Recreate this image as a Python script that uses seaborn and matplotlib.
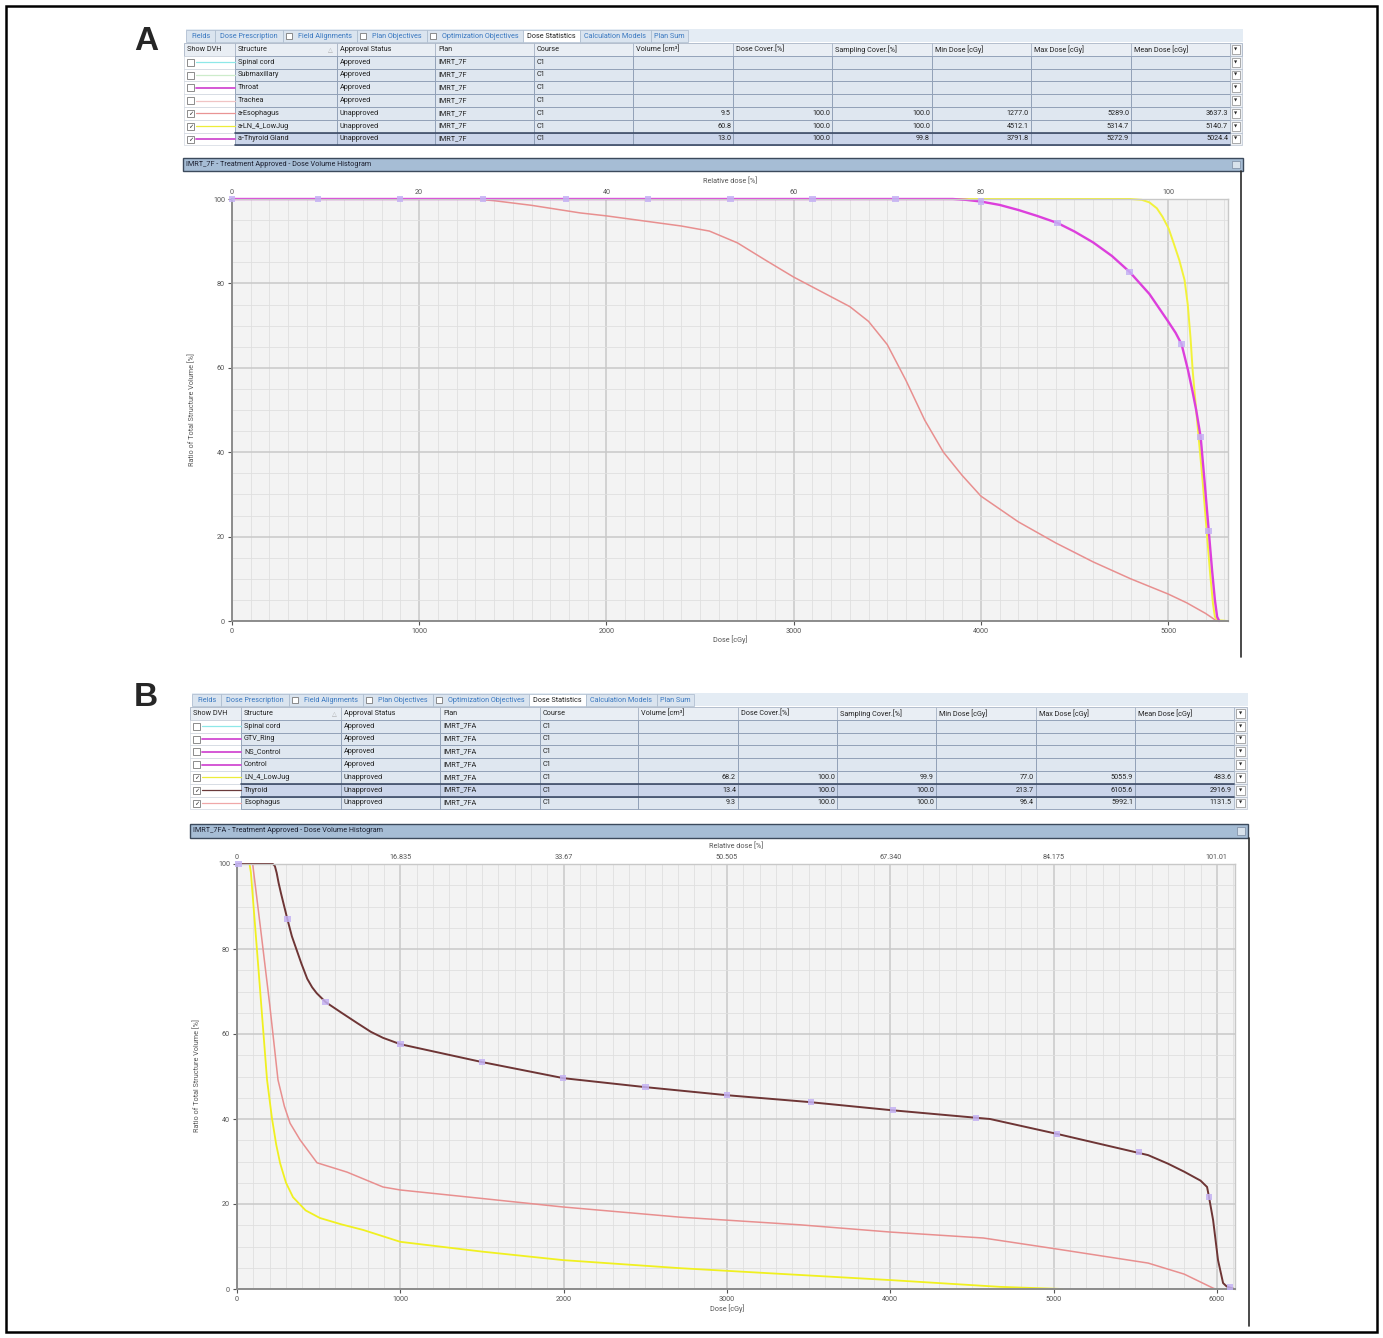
import numpy as np
import pandas as pd
import matplotlib
matplotlib.use("Agg")
import matplotlib.pyplot as plt
import seaborn as sns
from matplotlib.patches import Rectangle
from matplotlib.ticker import MultipleLocator

W, H = 1383, 1338

# ---------------- table data ----------------
tabs = ["Fields", "Dose Prescription", "Field Alignments", "Plan Objectives",
        "Optimization Objectives", "Dose Statistics", "Calculation Models", "Plan Sum"]
tab_checkbox = [False, False, True, True, True, False, False, False]
active_tab = "Dose Statistics"
header = ["Show DVH", "Structure", "Approval Status", "Plan", "Course", "Volume [cm³]",
          "Dose Cover.[%]", "Sampling Cover.[%]", "Min Dose [cGy]", "Max Dose [cGy]", "Mean Dose [cGy]"]

a_structure = ["Spinal cord", "Submaxillary", "Throat", "Trachea", "a-Esophagus", "a-LN_4_LowJug", "a-Thyroid Gland"]
a_status = ["Approved", "Approved", "Approved", "Approved", "Unapproved", "Unapproved", "Unapproved"]
a_plan = ["IMRT_7F"] * 7
a_course = ["C1"] * 7
a_volume = ["", "", "", "", "9.5", "60.8", "13.0"]
a_dose_cover = ["", "", "", "", "100.0", "100.0", "100.0"]
a_sampling = ["", "", "", "", "100.0", "100.0", "99.8"]
a_min = ["", "", "", "", "1277.0", "4512.1", "3791.8"]
a_max = ["", "", "", "", "5289.0", "5314.7", "5272.9"]
a_mean = ["", "", "", "", "3637.3", "5140.7", "5024.4"]
a_checked = [False, False, False, False, True, True, True]
a_swatch = ["#8ee8e8", "#cdeccb", "#d24bd2", "#f0c4c4", "#e99494", "#eded3a", "#d04cd0"]

b_structure = ["Spinal cord", "GTV_Ring", "NS_Control", "Control", "LN_4_LowJug", "Thyroid", "Esophagus"]
b_status = ["Approved", "Approved", "Approved", "Approved", "Unapproved", "Unapproved", "Unapproved"]
b_plan = ["IMRT_7FA"] * 7
b_course = ["C1"] * 7
b_volume = ["", "", "", "", "68.2", "13.4", "9.3"]
b_dose_cover = ["", "", "", "", "100.0", "100.0", "100.0"]
b_sampling = ["", "", "", "", "99.9", "100.0", "100.0"]
b_min = ["", "", "", "", "77.0", "213.7", "96.4"]
b_max = ["", "", "", "", "5055.9", "6105.6", "5992.1"]
b_mean = ["", "", "", "", "483.6", "2916.9", "1131.5"]
b_checked = [False, False, False, False, True, True, True]
b_swatch = ["#8ee8e8", "#d24bd2", "#d24bd2", "#d24bd2", "#eded3a", "#6a3a3a", "#f0a8a8"]

# ---------------- DVH curves, panel A ----------------
a_thyroid_dose = [0, 3850, 3920, 4000, 4100, 4200, 4300, 4410, 4500, 4600, 4700, 4795, 4900,
                  5000, 5040, 5072, 5106, 5130, 5150, 5174, 5195, 5216, 5235, 5250, 5262, 5273]
a_thyroid_vol = [100, 100, 99.8, 99.4, 98.6, 97.4, 96.0, 94.3, 92.3, 89.7, 86.5, 82.7, 77.5,
                 71, 68.3, 65.6, 59.5, 54.5, 50, 43.6, 33, 22, 12, 5, 1, 0]
a_thyroid_mk_dose = [0, 459, 897, 1340, 1783, 2221, 2664, 3102, 3545, 4000, 4410, 4795, 5072, 5174, 5216]
a_thyroid_mk_vol = [100, 100, 100, 100, 100, 100, 100, 100, 100, 99.4, 94.3, 82.7, 65.6, 43.6, 21.3]

a_ln_dose = [0, 4800, 4860, 4900, 4940, 4970, 5003, 5030, 5060, 5088, 5105, 5120, 5131, 5148, 5163,
             5184, 5205, 5225, 5240, 5250, 5265, 5315]
a_ln_vol = [100, 100, 99.8, 99.2, 97.8, 95.8, 93, 89.5, 85.5, 80.8, 75, 67, 59.5, 51, 43.6,
            33.4, 22, 11, 4, 1, 0.2, 0]

a_eso_dose = [0, 1300, 1400, 1600, 1860, 2000, 2200, 2400, 2550, 2700, 2850, 3000, 3150, 3300, 3400,
              3500, 3600, 3700, 3800, 3900, 4000, 4200, 4400, 4600, 4800, 5000, 5100, 5200, 5260]
a_eso_vol = [100, 100, 99.6, 98.5, 96.7, 96, 94.8, 93.6, 92.4, 89.6, 85.5, 81.5, 78, 74.5, 71,
             65.5, 57, 47.6, 40, 34.5, 29.6, 23.5, 18.5, 14, 10, 6.4, 4.3, 1.8, 0]

# ---------------- DVH curves, panel B ----------------
b_thyroid_dose = [0, 220, 232, 243, 255, 270, 308, 336, 365, 395, 430, 460, 488, 543, 640, 735, 820,
                  894, 1000, 1500, 2000, 2500, 3000, 3500, 4000, 4611, 5021, 5579, 5700, 5800, 5900,
                  5940, 5952, 5977, 6007, 6038, 6060, 6105]
b_thyroid_vol = [100, 100, 99.5, 97.9, 95.5, 93, 87.1, 83, 79.8, 76.5, 73, 71, 69.6, 67.5, 65, 62.6,
                 60.5, 59.1, 57.6, 53.4, 49.6, 47.5, 45.6, 44.0, 42.1, 40, 36.5, 31.5, 29.5, 27.6,
                 25.5, 24.0, 21.6, 16.2, 6.8, 1.4, 0.6, 0]
b_thyroid_mk_dose = [10, 308, 543, 1000, 1500, 1996, 2500, 3000, 3515, 4018, 4525, 5021, 5523, 5952, 6081]
b_thyroid_mk_vol = [100, 87.1, 67.5, 57.6, 53.4, 49.6, 47.5, 45.6, 44.0, 42.1, 40.2, 36.5, 32.2, 21.6, 0.5]

b_eso_dose = [0, 96, 150, 200, 251, 290, 325, 386, 490, 674, 894, 1000, 1500, 1996, 2713, 3448,
              4000, 4570, 5021, 5579, 5800, 5977, 5992]
b_eso_vol = [100, 100, 83, 67, 49.2, 43, 39, 35.1, 29.7, 27.5, 24, 23.3, 21.3, 19.3, 16.9, 15.1,
             13.4, 12, 9.4, 6.1, 3.5, 0.2, 0]

b_ln_dose = [0, 77, 85, 130, 184, 214, 240, 264, 300, 343, 420, 508, 640, 772, 1000, 1500, 1996,
             2713, 3448, 4000, 4674, 5055]
b_ln_vol = [100, 100, 98, 76, 49.2, 40.2, 34, 29.6, 25, 21.6, 18.5, 16.7, 15.2, 13.9, 11.1, 8.8, 6.8,
            4.9, 3.3, 2.1, 0.5, 0]

# top axis (relative dose) labels
a_rel_ticks = [0, 1000, 2000, 3000, 4000, 5000]
a_rel_labels = ["0", "20", "40", "60", "80", "100"]
b_rel_ticks = [0, 1000, 2000, 3000, 4000, 5000, 6000]
b_rel_labels = ["0", "16.835", "33.67", "50.505", "67.340", "84.175", "101.01"]

sns.set_theme(style="whitegrid")
plt.rcParams["font.family"] = ["Roboto", "DejaVu Sans"]

fig = plt.figure(figsize=(W / 100, H / 100), dpi=100)
ui = fig.add_axes([0, 0, 1, 1])
ui.set_xlim(0, W)
ui.set_ylim(H, 0)
ui.axis("off")

FS = 5.2


def px_rect(x0, y0, x1, y1):
    return [x0 / W, 1 - y1 / H, (x1 - x0) / W, (y1 - y0) / H]


def checkbox(x, y, size, checked=False):
    ui.add_patch(Rectangle((x, y - size / 2), size, size, fc="white", ec="#7a7a7a", lw=0.6))
    if checked:
        ui.text(x + size / 2, y + 0.3, "✓", fontsize=4.5, ha="center", va="center", color="#222222")


def draw_tabs(x0, y0, x_end, widths):
    ui.add_patch(Rectangle((x0, y0), x_end - x0, 13, fc="#e4ecf4", ec="none"))
    x = x0
    for name, w, cb in zip(tabs, widths, tab_checkbox):
        active = name == active_tab
        ui.add_patch(Rectangle((x, y0 + 1), w, 12, fc="white" if active else "#dae4ef",
                               ec="#a9b9cc", lw=0.5))
        tx = x + w / 2
        if cb:
            checkbox(x + 3, y0 + 7, 6)
            tx += 5
        ui.text(tx, y0 + 7.2, name, fontsize=FS, ha="center", va="center",
                color="#222222" if active else "#3a78c0")
        x += w


def draw_table(edges, y0, rh, rows, checked, swatch, selected):
    hdr_fc, row_fc, sel_fc = "#e9eef4", "#dfe7f0", "#cbd5ea"
    for i in range(len(edges) - 1):
        x0, x1 = edges[i], edges[i + 1]
        ui.add_patch(Rectangle((x0, y0), x1 - x0, rh, fc=hdr_fc, ec="#a9b5c6", lw=0.6))
        if i < len(header):
            ui.text(x0 + 3, y0 + rh / 2, header[i], fontsize=FS, va="center", color="#222222")
    ui.text(edges[2] - 7, y0 + rh / 2, "△", fontsize=4.5, va="center", ha="center", color="#aaaaaa")
    ui.add_patch(Rectangle((edges[-2] + 2, y0 + 2), edges[-1] - edges[-2] - 4, rh - 4,
                           fc="white", ec="#8a8a8a", lw=0.5))
    ui.text((edges[-2] + edges[-1]) / 2, y0 + rh / 2, "▼", fontsize=3, ha="center", va="center")
    for r, row in enumerate(rows):
        y = y0 + rh * (r + 1)
        fc = sel_fc if r == selected else row_fc
        # show DVH cell
        ui.add_patch(Rectangle((edges[0], y), edges[1] - edges[0], rh, fc="white", ec="#c7ced8", lw=0.4))
        checkbox(edges[0] + 3, y + rh / 2, 7, checked[r])
        ui.plot([edges[0] + 12, edges[1]], [y + rh / 2, y + rh / 2], color=swatch[r],
                lw=1.3 if swatch[r] in ("#d24bd2", "#d04cd0") else 0.9)
        for c in range(1, len(header)):
            x0, x1 = edges[c], edges[c + 1]
            ui.add_patch(Rectangle((x0, y), x1 - x0, rh, fc=fc, ec="#8b9bb3", lw=0.6))
            txt = row[c - 1]
            if c >= 5:
                ui.text(x1 - 2, y + rh / 2, txt, fontsize=FS, ha="right", va="center", color="#222222")
            else:
                ui.text(x0 + 3, y + rh / 2, txt, fontsize=FS, va="center", color="#222222")
        ui.add_patch(Rectangle((edges[-2], y), edges[-1] - edges[-2], rh, fc="#eef1f5", ec="#a9b5c6", lw=0.4))
        ui.add_patch(Rectangle((edges[-2] + 2, y + 2), edges[-1] - edges[-2] - 4, rh - 4,
                               fc="white", ec="#8a8a8a", lw=0.5))
        ui.text((edges[-2] + edges[-1]) / 2, y + rh / 2, "▼", fontsize=3, ha="center", va="center")
        if r == selected:
            for yy in (y, y + rh):
                ui.plot([edges[1], edges[-2]], [yy, yy], color="#3d4b66", lw=1.2)


def title_bar(x0, y0, x1, y1, text):
    ui.add_patch(Rectangle((x0, y0), x1 - x0, y1 - y0, fc="#a6bdd5", ec="#3c4a5c", lw=1.0))
    ui.text(x0 + 3, (y0 + y1) / 2, text, fontsize=FS, va="center", color="#1c2030")
    ui.add_patch(Rectangle((x1 - 11, y0 + 3), 8, y1 - y0 - 6, fc="#d8e2ec", ec="#7a8aa0", lw=0.5))


def draw_dvh(rect, xmax, curves, mk_dose, mk_vol, top_ticks, top_labels):
    ax = fig.add_axes(px_rect(*rect))
    ax.set_facecolor("#f3f3f3")
    for dose, vol, color, lw in curves:
        df = pd.DataFrame({"dose": dose, "volume": vol})
        sns.lineplot(data=df, x="dose", y="volume", color=color, lw=lw, sort=False,
                     estimator=None, ax=ax)
    sns.scatterplot(x=mk_dose, y=mk_vol, marker="s", s=22, color="#c4b2f4", alpha=0.85,
                    edgecolor="none", ax=ax, zorder=5, clip_on=False)
    for ln in ax.lines:
        ln.set_clip_on(False)
        ln.set_solid_joinstyle("round")
    ax.set_xlim(0, xmax)
    ax.set_ylim(0, 100)
    ax.xaxis.set_major_locator(MultipleLocator(1000))
    ax.xaxis.set_minor_locator(MultipleLocator(100))
    ax.yaxis.set_major_locator(MultipleLocator(20))
    ax.yaxis.set_minor_locator(MultipleLocator(5))
    ax.grid(which="major", color="#c8c8c8", lw=1.1)
    ax.grid(which="minor", color="#dfdfdf", lw=0.6)
    ax.set_axisbelow(True)
    ax.set_xlabel("")
    ax.set_ylabel("")
    for side in ("left", "bottom"):
        ax.spines[side].set_color("#8c8c8c")
        ax.spines[side].set_linewidth(1.4)
    for side in ("top", "right"):
        ax.spines[side].set_color("#c8c8c8")
        ax.spines[side].set_linewidth(1.0)
    ax.tick_params(which="major", labelsize=FS, colors="#555555", length=3, width=0.8,
                   pad=2, left=True, bottom=False)
    ax.tick_params(which="minor", length=0)
    top = ax.twiny()
    top.set_xlim(ax.get_xlim())
    top.set_xticks(top_ticks)
    top.set_xticklabels(top_labels)
    top.tick_params(labelsize=FS, colors="#555555", length=0, pad=2)
    top.grid(False)
    for s in top.spines.values():
        s.set_visible(False)
    return ax


# ---------------- page frame and panel letters ----------------
ui.add_patch(Rectangle((6, 6), W - 12, H - 12, fc="none", ec="black", lw=1.8))
ui.text(146, 42, "A", fontsize=24, fontweight="bold", ha="center", va="center",
        family=["Liberation Sans", "DejaVu Sans"])
ui.text(146, 697, "B", fontsize=24, fontweight="bold", ha="center", va="center",
        family=["Liberation Sans", "DejaVu Sans"])

# ---------------- panel A ----------------
a_rows = list(zip(a_structure, a_status, a_plan, a_course, a_volume, a_dose_cover,
                  a_sampling, a_min, a_max, a_mean))
draw_tabs(186, 29, 1243, [29, 68, 74, 70, 96, 57, 71, 37])
draw_table([184, 235, 337, 435, 534, 633, 733, 832, 932, 1031, 1131, 1230, 1242],
           43, 12.8, a_rows, a_checked, a_swatch, 6)
title_bar(183, 158, 1243, 171, "IMRT_7F - Treatment Approved - Dose Volume Histogram")
ui.plot([1241, 1241], [171, 657], color="#2a2a2a", lw=1.2)
draw_dvh((232, 199, 1228, 621), 5320,
         [(a_eso_dose, a_eso_vol, "#e88f8f", 1.1),
          (a_ln_dose, a_ln_vol, "#f2f23a", 1.4),
          (a_thyroid_dose, a_thyroid_vol, "#dc3fdc", 1.7)],
         a_thyroid_mk_dose, a_thyroid_mk_vol, a_rel_ticks, a_rel_labels)
ui.text(730, 181, "Relative dose [%]", fontsize=FS, ha="center", va="center", color="#555555")
ui.text(730, 640, "Dose [cGy]", fontsize=FS, ha="center", va="center", color="#555555")
ui.text(192, 410, "Ratio of Total Structure Volume [%]", fontsize=FS, rotation=90,
        ha="center", va="center", color="#555555")

# ---------------- panel B ----------------
b_rows = list(zip(b_structure, b_status, b_plan, b_course, b_volume, b_dose_cover,
                  b_sampling, b_min, b_max, b_mean))
draw_tabs(192, 693, 1248, [29, 68, 74, 70, 96, 57, 71, 37])
draw_table([190, 241, 341, 440, 540, 638, 738, 837, 936, 1036, 1135, 1234, 1247],
           707, 12.8, b_rows, b_checked, b_swatch, 5)
title_bar(190, 824, 1248, 838, "IMRT_7FA - Treatment Approved - Dose Volume Histogram")
ui.plot([1249, 1249], [838, 1326], color="#2a2a2a", lw=1.2)
draw_dvh((237, 864, 1235, 1289), 6111,
         [(b_ln_dose, b_ln_vol, "#f0f020", 1.3),
          (b_eso_dose, b_eso_vol, "#e88f8f", 1.1),
          (b_thyroid_dose, b_thyroid_vol, "#6e3535", 1.4)],
         b_thyroid_mk_dose, b_thyroid_mk_vol, b_rel_ticks, b_rel_labels)
ui.text(736, 846, "Relative dose [%]", fontsize=FS, ha="center", va="center", color="#555555")
ui.text(727, 1309, "Dose [cGy]", fontsize=FS, ha="center", va="center", color="#555555")
ui.text(197, 1075, "Ratio of Total Structure Volume [%]", fontsize=FS, rotation=90,
        ha="center", va="center", color="#555555")

fig.savefig("out.png", dpi=100)
